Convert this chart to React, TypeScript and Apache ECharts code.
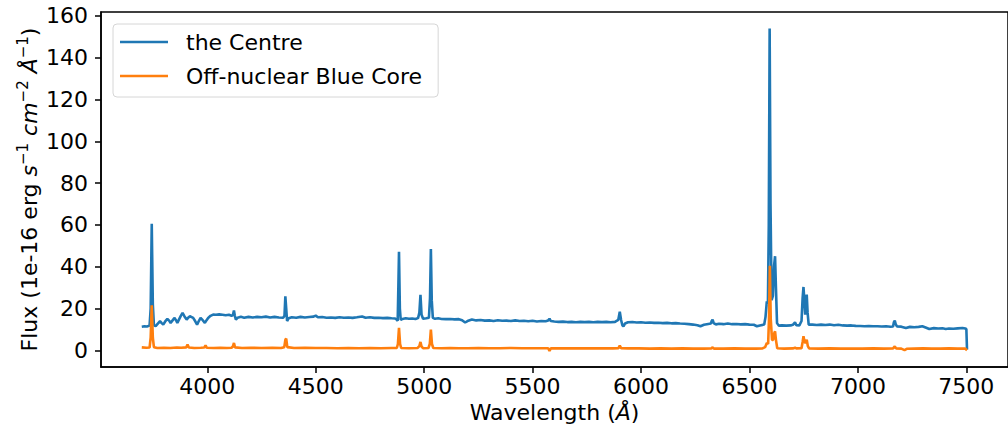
import React, { useEffect, useRef } from 'react';
import * as echarts from 'echarts';

const xTicks = [4000, 4500, 5000, 5500, 6000, 6500, 7000, 7500];
const yTicks = [0, 20, 40, 60, 80, 100, 120, 140, 160];
const seriesNames = ['the Centre', 'Off-nuclear Blue Core'];
const seriesColors = ['#1f77b4', '#ff7f0e'];

// [wavelength (Å), flux]
const centreSpectrum: [number, number][] = [
  [3698, 11.3], [3710, 11.5], [3722, 11.4], [3734, 11.8], [3739, 20], [3744, 60.5], [3749, 22], [3754, 12],
  [3762, 11.6], [3772, 12.8], [3782, 13.9], [3790, 13.0], [3797, 12.3], [3806, 13.8], [3816, 15.0], [3824, 14.2],
  [3831, 13.1], [3840, 14.3], [3848, 15.5], [3856, 14.4], [3862, 13.1], [3870, 14.8], [3878, 16.5], [3886, 17.9],
  [3895, 16.2], [3905, 14.7], [3912, 15.6], [3920, 16.3], [3928, 15.9], [3935, 15.5], [3944, 14.0], [3953, 12.3],
  [3961, 14.0], [3969, 15.5], [3979, 14.4], [3989, 13.1], [3996, 14.3], [4004, 15.5], [4015, 16.5], [4027, 17.1],
  [4040, 17.0], [4055, 17.2], [4070, 17.0], [4085, 16.8], [4100, 17.0], [4112, 16.5], [4118, 16.8], [4123, 19.0],
  [4127, 16.5], [4132, 14.7], [4140, 15.6], [4155, 16.0], [4170, 15.6], [4190, 16.0], [4210, 15.7], [4230, 16.0],
  [4250, 15.8], [4270, 16.1], [4290, 15.7], [4310, 16.0], [4330, 15.7], [4350, 15.6], [4356, 16.5], [4360, 25.8],
  [4364, 20], [4368, 14.0], [4375, 15.3], [4390, 15.8], [4410, 15.6], [4430, 16.0], [4450, 15.7], [4470, 15.9],
  [4490, 16.1], [4500, 16.6], [4510, 15.8], [4530, 15.9], [4550, 15.6], [4570, 15.7], [4590, 15.5], [4610, 15.8],
  [4630, 15.6], [4650, 15.7], [4670, 15.5], [4690, 15.8], [4714, 16.2], [4730, 15.6], [4750, 15.8], [4770, 15.5],
  [4790, 15.6], [4810, 15.4], [4830, 15.5], [4850, 15.3], [4866, 15.2], [4874, 14.6], [4878, 14.1], [4881, 30],
  [4884, 47.2], [4888, 20], [4892, 14.5], [4900, 15.0], [4915, 15.3], [4930, 15.1], [4945, 15.2], [4960, 15.0],
  [4972, 15.4], [4978, 18], [4983, 26.5], [4988, 17], [4995, 15.1], [5010, 15.3], [5022, 15.6], [5027, 25],
  [5031, 48.5], [5035, 24], [5040, 15.5], [5050, 15.1], [5065, 15.3], [5080, 15.0], [5100, 14.9], [5120, 15.0],
  [5140, 14.8], [5160, 14.9], [5175, 14.4], [5189, 13.3], [5200, 14.0], [5220, 14.7], [5240, 14.3], [5260, 14.5],
  [5280, 14.2], [5300, 14.3], [5320, 14.0], [5340, 14.4], [5360, 14.1], [5380, 14.2], [5400, 14.0], [5420, 14.3],
  [5440, 14.0], [5460, 14.1], [5480, 13.9], [5500, 14.1], [5520, 13.8], [5540, 14.0], [5560, 13.9], [5572, 14.3],
  [5578, 15.1], [5584, 14.0], [5600, 13.8], [5620, 13.6], [5640, 13.7], [5660, 13.5], [5680, 13.6], [5700, 13.4],
  [5720, 13.6], [5740, 13.5], [5760, 13.6], [5780, 13.4], [5800, 13.6], [5820, 13.5], [5840, 13.6], [5860, 13.4],
  [5880, 13.6], [5895, 14.5], [5902, 18.5], [5908, 14.5], [5914, 12.0], [5919, 11.5], [5926, 12.8], [5940, 13.4],
  [5960, 13.5], [5980, 13.3], [6000, 13.4], [6020, 13.2], [6040, 13.3], [6060, 13.1], [6080, 13.2], [6100, 13.0],
  [6120, 13.1], [6140, 12.9], [6160, 13.0], [6180, 12.8], [6200, 12.7], [6220, 12.5], [6240, 12.3], [6260, 12.0],
  [6274, 11.5], [6290, 12.2], [6310, 12.6], [6322, 12.8], [6326, 14.0], [6330, 14.7], [6335, 13.0], [6345, 12.4],
  [6360, 12.7], [6380, 12.5], [6400, 12.8], [6420, 12.5], [6440, 12.6], [6460, 12.4], [6480, 12.5], [6500, 12.3],
  [6520, 12.2], [6534, 11.5], [6548, 11.9], [6568, 12.3], [6574, 16], [6580, 23.4], [6585, 22], [6589, 60],
  [6593, 154], [6597, 70], [6602, 24], [6608, 26], [6613, 40], [6618, 45], [6622, 30], [6627, 13],
  [6635, 11.8], [6650, 11.9], [6670, 11.8], [6690, 11.9], [6700, 12.2], [6710, 13.4], [6716, 12.0], [6730, 11.9],
  [6740, 14], [6745, 25], [6749, 30.3], [6753, 24], [6757, 17], [6760, 22], [6764, 26.7], [6768, 18],
  [6773, 12.3], [6790, 12.3], [6810, 12.1], [6830, 12.3], [6850, 12.1], [6870, 12.3], [6890, 12.0], [6910, 12.2],
  [6930, 11.9], [6950, 11.8], [6970, 11.9], [6990, 11.7], [7010, 11.6], [7030, 11.5], [7050, 11.6], [7070, 11.5],
  [7090, 11.5], [7110, 11.4], [7130, 11.5], [7150, 11.3], [7162, 11.4], [7166, 13.5], [7170, 14.2], [7174, 12.5],
  [7180, 11.4], [7200, 11.3], [7221, 10.7], [7240, 11.2], [7260, 11.0], [7280, 11.2], [7297, 11.5], [7315, 10.8],
  [7329, 10.2], [7350, 10.6], [7370, 10.4], [7390, 10.5], [7405, 10.2], [7420, 10.4], [7440, 10.3], [7460, 10.5],
  [7482, 10.7], [7495, 10.4], [7500, 10.2], [7503, 0.3],
];

const coreSpectrum: [number, number][] = [
  [3698, 1.4], [3720, 1.2], [3734, 1.3], [3739, 6], [3744, 21.5], [3749, 6], [3754, 1.5], [3770, 1.1],
  [3800, 1.2], [3830, 1.1], [3860, 1.3], [3880, 1.2], [3903, 1.4], [3909, 2.7], [3915, 1.3], [3940, 1.1],
  [3970, 1.2], [3986, 1.3], [3992, 2.4], [3998, 1.2], [4030, 1.1], [4060, 1.2], [4090, 1.1], [4112, 1.2],
  [4118, 1.8], [4123, 3.5], [4128, 1.4], [4160, 1.1], [4200, 1.2], [4250, 1.1], [4300, 1.2], [4340, 1.1],
  [4355, 1.5], [4360, 5.0], [4364, 5.6], [4369, 1.5], [4400, 1.1], [4450, 1.2], [4500, 1.1], [4550, 1.1],
  [4600, 1.0], [4650, 1.1], [4700, 1.0], [4750, 1.1], [4800, 1.0], [4850, 1.1], [4874, 1.1], [4879, 3],
  [4884, 10.7], [4889, 3], [4894, 1.1], [4930, 1.0], [4970, 1.1], [4978, 2], [4983, 4.0], [4988, 1.8],
  [4995, 1.0], [5020, 1.1], [5026, 3], [5031, 9.9], [5036, 3], [5042, 1.1], [5080, 1.0], [5120, 1.1],
  [5160, 1.0], [5200, 1.0], [5250, 1.1], [5300, 1.0], [5350, 1.0], [5400, 1.1], [5450, 1.0], [5500, 1.0],
  [5550, 1.0], [5572, 1.0], [5578, -0.3], [5584, 0.9], [5620, 0.9], [5670, 1.0], [5720, 0.9], [5770, 0.9],
  [5820, 1.0], [5870, 0.9], [5896, 1.0], [5902, 2.2], [5908, 1.0], [5940, 0.9], [5990, 0.9], [6040, 0.8],
  [6090, 0.9], [6140, 0.8], [6190, 0.9], [6240, 0.8], [6290, 0.8], [6324, 0.9], [6330, 1.4], [6336, 0.8],
  [6380, 0.8], [6430, 0.9], [6480, 0.8], [6530, 0.8], [6560, 0.9], [6572, 1.5], [6580, 3.5], [6586, 3],
  [6590, 15], [6594, 40.5], [6598, 15], [6604, 5], [6609, 5], [6614, 8], [6618, 9.1], [6622, 5],
  [6628, 1.0], [6660, 0.8], [6700, 0.9], [6710, 1.2], [6716, 0.9], [6740, 1.0], [6745, 4], [6749, 6.7],
  [6754, 4], [6758, 3.5], [6764, 5.1], [6769, 2], [6775, 0.9], [6820, 0.8], [6870, 0.9], [6920, 0.8],
  [6970, 0.8], [7020, 0.8], [7070, 0.9], [7120, 0.8], [7162, 0.9], [7170, 1.9], [7176, 0.9], [7200, 0.8],
  [7215, 0.1], [7225, 0.7], [7260, 0.8], [7300, 0.9], [7340, 0.8], [7380, 0.8], [7420, 0.9], [7460, 0.8],
  [7495, 0.8], [7503, 0.0],
];

const FONT = 'DejaVu Sans';

export default function App() {
  const ref = useRef<HTMLDivElement>(null);
  useEffect(() => {
    const chart = echarts.init(ref.current!, null, { renderer: 'svg' });
    const axisLine = { show: true, onZero: false, lineStyle: { color: '#000', width: 1.5 } };
    const tick = { show: true, length: 6, lineStyle: { color: '#000', width: 1.5 } };
    chart.setOption({
      animation: false,
      backgroundColor: '#fff',
      textStyle: { fontFamily: FONT },
      grid: {
        left: 101, top: 12, width: 912, height: 355,
        show: true, borderColor: '#000', borderWidth: 1.5, backgroundColor: 'transparent',
      },
      xAxis: {
        type: 'value', min: 3510, max: 7692,
        axisLine,
        axisTick: { ...tick, customValues: xTicks },
        axisLabel: {
          customValues: xTicks, fontSize: 22, color: '#000', margin: 8, fontFamily: FONT,
          formatter: (v: number) => String(v),
        },
        splitLine: { show: false },
        name: 'Wavelength ({i|Å})', nameLocation: 'middle', nameGap: 33,
        nameTextStyle: {
          fontSize: 22, color: '#000', fontFamily: FONT,
          rich: { i: { fontStyle: 'italic', fontSize: 22, fontFamily: FONT, color: '#000' } },
        },
      },
      yAxis: {
        type: 'value', min: -8, max: 161.9,
        axisLine,
        axisTick: { ...tick, customValues: yTicks },
        axisLabel: {
          customValues: yTicks, fontSize: 22, color: '#000', margin: 13, fontFamily: FONT,
          formatter: (v: number) => String(v),
        },
        splitLine: { show: false },
      },
      legend: {
        data: seriesNames, left: 113, top: 24, orient: 'vertical',
        icon: 'rect', itemWidth: 48, itemHeight: 2.6, itemGap: 12,
        padding: [7, 16, 10, 7],
        backgroundColor: '#fff', borderColor: '#d6d6d6', borderWidth: 1, borderRadius: 4,
        textStyle: { fontSize: 22, color: '#000', fontFamily: FONT, padding: [0, 0, 0, 13], lineHeight: 22 },
      },
      graphic: [
        {
          type: 'text', x: 29, y: 189.5, rotation: Math.PI / 2,
          style: {
            text: 'Flux (1e-16 erg {it|s}{sup|−1} {it|cm}{sup|−2} {it|Å}{sup|−1})',
            fontSize: 22, fontFamily: FONT, fill: '#000', lineHeight: 28,
            align: 'center', verticalAlign: 'middle',
            rich: {
              it: { fontStyle: 'italic', fontSize: 22, fontFamily: FONT, fill: '#000', lineHeight: 28 },
              sup: { fontSize: 15, fontFamily: FONT, fill: '#000', lineHeight: 15, verticalAlign: 'top' },
            },
          },
        },
      ],
      series: [
        {
          name: seriesNames[0], type: 'line', data: centreSpectrum, symbol: 'none', showSymbol: false,
          lineStyle: { width: 2.6, color: seriesColors[0] }, itemStyle: { color: seriesColors[0] }, silent: true,
        },
        {
          name: seriesNames[1], type: 'line', data: coreSpectrum, symbol: 'none', showSymbol: false,
          lineStyle: { width: 2.6, color: seriesColors[1] }, itemStyle: { color: seriesColors[1] }, silent: true,
        },
      ],
    });
    return () => chart.dispose();
  }, []);
  return (
    <div
      ref={ref}
      style={{ position: 'fixed', left: 0, top: 0, width: 1008, height: 438, background: '#fff' }}
    />
  );
}
